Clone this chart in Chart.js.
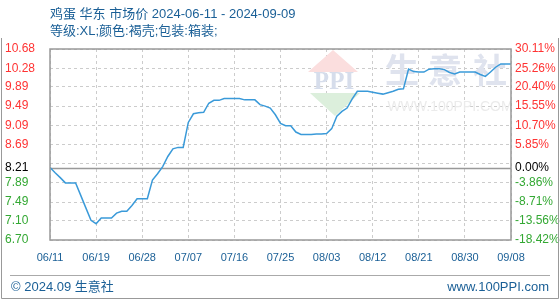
<!DOCTYPE html>
<html lang="zh-CN">
<head>
    <meta charset="UTF-8">
    <title>鸡蛋 华东 市场价</title>
    <script src="https://cdn.jsdelivr.net/npm/chart.js"></script>
    <style>
        * { margin: 0; padding: 0; box-sizing: border-box; }
        body { background: #fff; font-family: 'Liberation Sans', 'Noto Sans CJK SC', sans-serif; }
        .wrap { position: relative; width: 560px; height: 300px; overflow: hidden; }
        .wrap canvas { position: absolute; left: 0; top: 0; }
        .title { position: absolute; left: 50px; color: #1a5f96; font-size: 13px; line-height: 16px; white-space: nowrap; }
        .t1 { top: 6px; }
        .t2 { top: 23px; }
        .foot { position: absolute; top: 279px; color: #1a5f96; font-size: 13px; line-height: 16px; white-space: nowrap; }
        .foot.left { left: 11px; }
        .foot.right { right: 11px; }
    </style>
</head>
<body>
<div class="wrap">
    <canvas id="chart" width="560" height="300"></canvas>
    <div class="title t1">鸡蛋 华东 市场价 2024-06-11 - 2024-09-09</div>
    <div class="title t2">等级:XL;颜色:褐壳;包装:箱装;</div>
    <div class="foot left">© 2024.09 生意社</div>
    <div class="foot right">www.100PPI.com</div>
</div>

<script>
    // tick labels
    const xTickLabels = ['06/11', '06/19', '06/28', '07/07', '07/16', '07/25', '08/03', '08/12', '08/21', '08/30', '09/08'];
    const yTicks = [6.70, 7.10, 7.49, 7.89, 8.29, 8.69, 9.09, 9.49, 9.89, 10.28, 10.68];
    const pctLabels = ['-18.42%', '-13.56%', '-8.71%', '-3.86%', '', '5.85%', '10.70%', '15.55%', '20.40%', '25.26%', '30.11%'];
    const basePrice = 8.21;

    // 价格 (元/公斤), 2024-06-11 .. 2024-09-09
    const prices = [
        8.21, 8.10, 8.00, 7.89, 7.89, 7.89, 7.63, 7.37, 7.11, 7.04,
        7.16, 7.16, 7.16, 7.26, 7.30, 7.30, 7.42, 7.56, 7.56, 7.56,
        7.95, 8.08, 8.23, 8.44, 8.60, 8.63, 8.63, 9.15, 9.33, 9.35,
        9.36, 9.55, 9.61, 9.61, 9.65, 9.65, 9.65, 9.65, 9.62, 9.62,
        9.62, 9.52, 9.49, 9.45, 9.31, 9.13, 9.08, 9.08, 8.95, 8.90,
        8.90, 8.90, 8.91, 8.91, 8.92, 9.02, 9.28, 9.38, 9.45, 9.64,
        9.80, 9.80, 9.80, 9.78, 9.76, 9.74, 9.77, 9.80, 9.84, 9.85,
        10.26, 10.21, 10.20, 10.20, 10.26, 10.27, 10.27, 10.25, 10.19, 10.16,
        10.20, 10.20, 10.20, 10.20, 10.15, 10.11, 10.20, 10.30, 10.37, 10.37,
        10.37
    ];

    const blue = '#1a5f96';
    const red = '#ff3333';
    const green = '#33a833';

    function tickColor(ctx) {
        const v = ctx.tick.value;
        if (v === basePrice) return '#000';
        return v > basePrice ? red : green;
    }

    function setTicks(scale) {
        scale.ticks = yTicks.concat([basePrice]).sort((a, b) => a - b).map(v => ({ value: v }));
    }

    // 水印, 边框, 基准线
    const decor = {
        id: 'decor',
        beforeDatasetsDraw(chart) {
            const ctx = chart.ctx;
            const a = chart.chartArea;
            ctx.save();
            ctx.beginPath();
            ctx.rect(a.left, a.top, a.right - a.left, a.bottom - a.top);
            ctx.clip();
            // PPI logo
            ctx.fillStyle = '#fbdede';
            ctx.beginPath();
            ctx.moveTo(333, 50); ctx.lineTo(358, 72); ctx.lineTo(308, 72); ctx.closePath(); ctx.fill();
            ctx.fillStyle = '#dcefdc';
            ctx.beginPath();
            ctx.moveTo(310, 93); ctx.lineTo(360, 93); ctx.lineTo(335, 116); ctx.closePath(); ctx.fill();
            ctx.fillStyle = '#d6ddeb';
            ctx.font = 'bold 25px "Liberation Serif", serif';
            ctx.textAlign = 'center';
            ctx.textBaseline = 'middle';
            ctx.fillText('PPI', 334, 83);
            // 生意社
            ctx.font = 'bold 34px "Noto Sans CJK SC", sans-serif';
            ctx.fillStyle = '#dfe3ee';
            ctx.fillText('生', 402, 70);
            ctx.fillText('意', 445, 70);
            ctx.fillText('社', 490, 70);
            ctx.font = '14px "Liberation Sans", sans-serif';
            ctx.fillStyle = '#ebebeb';
            ctx.fillText('WWW.100PPI.COM', 450, 107);
            ctx.restore();
            // 基准线
            const y = Math.round(chart.scales.y.getPixelForValue(basePrice)) + 0.5;
            ctx.save();
            ctx.strokeStyle = '#999';
            ctx.lineWidth = 1.5;
            ctx.beginPath();
            ctx.moveTo(a.left, y); ctx.lineTo(a.right, y); ctx.stroke();
            ctx.restore();
        },
        afterDraw(chart) {
            const ctx = chart.ctx;
            const a = chart.chartArea;
            ctx.save();
            ctx.strokeStyle = '#999';
            ctx.lineWidth = 1.5;
            ctx.strokeRect(a.left, a.top, a.right - a.left, a.bottom - a.top);
            // footer rule and outer frame
            ctx.lineWidth = 1;
            ctx.strokeStyle = '#aaa';
            ctx.beginPath();
            ctx.moveTo(10, 275.5); ctx.lineTo(550, 275.5);
            ctx.stroke();
            ctx.strokeStyle = '#999';
            ctx.beginPath();
            ctx.moveTo(1.5, 38); ctx.lineTo(1.5, 298.5); ctx.lineTo(558.5, 298.5); ctx.lineTo(558.5, 38);
            ctx.stroke();
            ctx.restore();
        }
    };

    new Chart(document.getElementById('chart'), {
        type: 'line',
        data: {
            datasets: [{
                data: prices.map((v, i) => ({ x: i, y: v })),
                borderColor: '#3a9ad9',
                borderWidth: 1.5,
                pointRadius: 0,
                tension: 0,
                fill: false
            }]
        },
        options: {
            responsive: false,
            animation: false,
            events: [],
            layout: { padding: { top: 49, left: 5, right: 0, bottom: 0 } },
            plugins: {
                legend: { display: false },
                tooltip: { enabled: false }
            },
            scales: {
                x: {
                    type: 'linear',
                    min: 0,
                    max: prices.length - 1,
                    afterFit: s => { s.height = 60; },
                    border: { display: false, dash: [3, 3] },
                    grid: { color: '#cccccc', drawTicks: false },
                    ticks: {
                        stepSize: 9,
                        padding: 11,
                        maxRotation: 0,
                        color: blue,
                        font: { size: 11, family: "'Liberation Sans', sans-serif" },
                        callback: (v) => xTickLabels[v / 9] || ''
                    }
                },
                y: {
                    position: 'left',
                    min: 6.70,
                    max: 10.68,
                    afterFit: s => { s.width = 45; },
                    afterBuildTicks: setTicks,
                    border: { display: false, dash: [3, 3] },
                    grid: {
                        drawTicks: false,
                        color: ctx => ctx.tick && ctx.tick.value === basePrice ? 'rgba(0,0,0,0)' : '#cccccc'
                    },
                    ticks: {
                        autoSkip: false,
                        crossAlign: 'far',
                        color: tickColor,
                        font: { size: 12, family: "'Liberation Sans', sans-serif" },
                        callback: (v) => v === 8.29 ? '' : v.toFixed(2)
                    }
                },
                y1: {
                    position: 'right',
                    min: 6.70,
                    max: 10.68,
                    afterFit: s => { s.width = 49; },
                    afterBuildTicks: setTicks,
                    border: { display: false },
                    grid: { display: false, drawTicks: false },
                    ticks: {
                        autoSkip: false,
                        padding: 4,
                        color: tickColor,
                        font: { size: 12, family: "'Liberation Sans', sans-serif" },
                        callback: (v) => {
                            if (v === basePrice) return '0.00%';
                            const i = yTicks.indexOf(v);
                            return i >= 0 ? pctLabels[i] : '';
                        }
                    }
                }
            }
        },
        plugins: [decor]
    });
</script>
</body>
</html>
